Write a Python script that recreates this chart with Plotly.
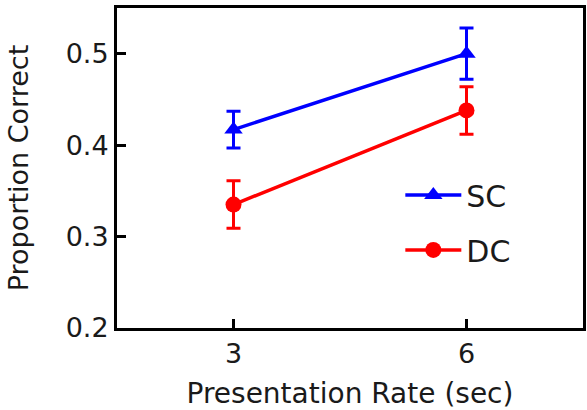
import plotly.graph_objects as go

rates = [3, 6]
sc_vals = [0.417, 0.500]
sc_err = [0.020, 0.028]
dc_vals = [0.335, 0.438]
dc_err = [0.026, 0.026]
x_ticks = [3, 6]
y_ticks = [0.2, 0.3, 0.4, 0.5]

FONT = "DejaVu Sans, Liberation Sans, Arial, sans-serif"
TXT = "#1a1a1a"

fig = go.Figure()
fig.add_trace(go.Scatter(
    x=rates, y=sc_vals, name="SC", mode="lines+markers",
    line=dict(color="#0000ff", width=3.5),
    marker=dict(symbol="triangle-up", size=16, color="#0000ff"),
    error_y=dict(type="data", array=sc_err, color="#0000ff", thickness=3, width=7),
    legendgroup="a",
))
fig.add_trace(go.Scatter(
    x=rates, y=dc_vals, name="DC", mode="lines+markers",
    line=dict(color="#ff0000", width=3.5),
    marker=dict(symbol="circle", size=16, color="#ff0000"),
    error_y=dict(type="data", array=dc_err, color="#ff0000", thickness=3, width=7),
    legendgroup="b",
))

fig.update_layout(
    width=587, height=410,
    margin=dict(l=117, r=1, t=8, b=82),
    paper_bgcolor="white", plot_bgcolor="white",
    font=dict(family=FONT, color=TXT, size=27),
    showlegend=True,
    legend=dict(x=0.608, y=0.497, xanchor="left", yanchor="top",
                font=dict(size=30, color=TXT), bgcolor="rgba(0,0,0,0)",
                tracegroupgap=13, itemwidth=56),
    xaxis=dict(range=[1.5, 7.5], tickvals=x_ticks, ticktext=[str(v) for v in x_ticks],
               ticks="inside", ticklen=9, tickwidth=3, tickcolor="black",
               tickfont=dict(size=27),
               showline=True, linecolor="black", linewidth=3, mirror=True,
               showgrid=False, zeroline=False,
               title=dict(text="Presentation Rate (sec)", font=dict(size=28), standoff=16)),
    yaxis=dict(range=[0.2, 0.55], tickvals=y_ticks, ticktext=["0.2", "0.3", "0.4", "0.5"],
               ticks="inside", ticklen=9, tickwidth=3, tickcolor="black",
               tickfont=dict(size=27),
               showline=True, linecolor="black", linewidth=3, mirror=True,
               showgrid=False, zeroline=False,
               title=dict(text="Proportion Correct", font=dict(size=27), standoff=30)),
)
fig.write_html("out.html")
